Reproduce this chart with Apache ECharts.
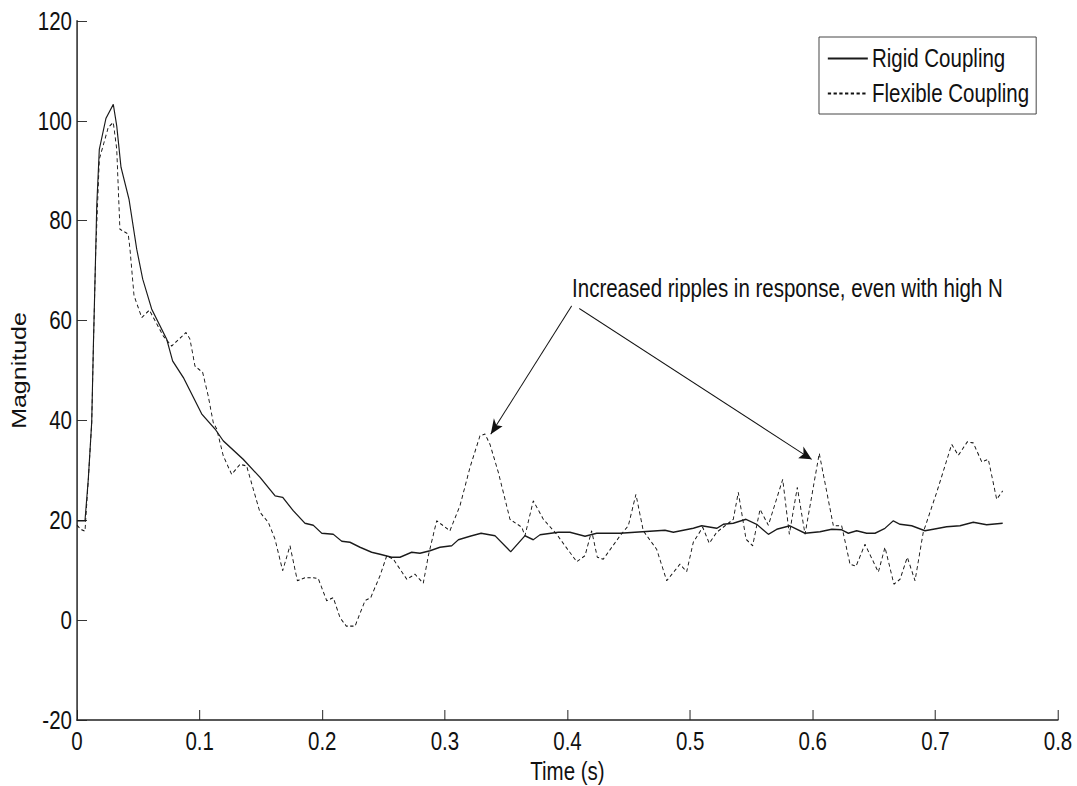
<!DOCTYPE html>
<html>
<head>
<meta charset="utf-8">
<title>Rigid vs Flexible Coupling</title>
<script src="https://cdn.jsdelivr.net/npm/echarts@6/dist/echarts.min.js"></script>
<style>
  html, body { margin: 0; padding: 0; background: #fff; overflow: hidden; }
  #frame { width: 1077px; height: 786px; overflow: hidden; }
  #chart { height: 786px; transform-origin: 0 0; }
</style>
</head>
<body>
<div id="frame"><div id="chart"></div></div>
<script>
// Step response magnitude over time for two coupling types
const rigidT = [0, 0.0065, 0.0092, 0.012, 0.0133, 0.0153, 0.0161, 0.0182, 0.0236, 0.0296, 0.0324, 0.0359, 0.0424, 0.0487, 0.0536, 0.0609, 0.0731, 0.078, 0.0867, 0.1017, 0.1125, 0.1193, 0.1356, 0.1492, 0.1615, 0.1677, 0.1764, 0.1859, 0.1927, 0.1996, 0.209, 0.2159, 0.2226, 0.2308, 0.2403, 0.2471, 0.2566, 0.2634, 0.2729, 0.2797, 0.2879, 0.296, 0.3056, 0.311, 0.3205, 0.3295, 0.3409, 0.3537, 0.3653, 0.3721, 0.3776, 0.3925, 0.402, 0.4143, 0.4238, 0.4428, 0.455, 0.4795, 0.4863, 0.5026, 0.5094, 0.5217, 0.527, 0.5352, 0.5456, 0.5543, 0.5638, 0.5706, 0.5814, 0.5937, 0.6059, 0.6155, 0.6236, 0.629, 0.6358, 0.644, 0.6508, 0.6589, 0.6657, 0.6712, 0.6807, 0.6915, 0.6983, 0.7092, 0.7201, 0.7309, 0.7418, 0.7549];
const rigidV = [19.9, 19.9, 28.2, 39.7, 54.3, 74.3, 83, 94.3, 100.5, 103.3, 99, 90.7, 84.3, 74.3, 68.3, 62.3, 56.3, 51.9, 48.6, 41.3, 38.3, 35.9, 32.2, 28.6, 24.9, 24.6, 21.9, 19.4, 19, 17.4, 17.2, 15.8, 15.6, 14.6, 13.6, 13.2, 12.6, 12.6, 13.6, 13.4, 13.9, 14.6, 14.9, 16.1, 16.8, 17.4, 16.9, 13.7, 16.9, 16.1, 17.1, 17.6, 17.6, 16.8, 17.4, 17.4, 17.6, 18, 17.6, 18.4, 18.9, 18.4, 19.2, 19.4, 20.2, 19.2, 17.2, 18.2, 18.9, 17.4, 17.7, 18.2, 18.1, 17.4, 17.9, 17.4, 17.4, 18.4, 19.9, 19.2, 18.9, 17.9, 18.2, 18.7, 18.9, 19.6, 19.1, 19.4];

const flexT = [0, 0.003, 0.0065, 0.0092, 0.012, 0.0133, 0.0153, 0.0182, 0.0255, 0.0296, 0.0324, 0.035, 0.0418, 0.0432, 0.0465, 0.0528, 0.059, 0.0704, 0.0772, 0.0889, 0.0921, 0.0962, 0.1025, 0.107, 0.1111, 0.1139, 0.1193, 0.1261, 0.1329, 0.1383, 0.1438, 0.1492, 0.156, 0.1615, 0.1677, 0.1737, 0.1797, 0.1859, 0.1927, 0.1968, 0.2036, 0.209, 0.2145, 0.2196, 0.2268, 0.2294, 0.2349, 0.2395, 0.2471, 0.2526, 0.258, 0.2689, 0.2756, 0.2824, 0.2865, 0.2933, 0.3041, 0.3123, 0.3205, 0.3286, 0.3327, 0.3368, 0.3436, 0.3531, 0.3627, 0.3653, 0.3721, 0.3803, 0.3912, 0.4075, 0.4143, 0.4197, 0.4243, 0.4292, 0.4428, 0.4496, 0.4558, 0.4618, 0.4727, 0.4809, 0.4917, 0.4972, 0.5026, 0.5103, 0.5156, 0.5217, 0.5311, 0.5352, 0.5393, 0.5456, 0.551, 0.557, 0.5638, 0.5755, 0.5809, 0.5874, 0.5937, 0.6053, 0.6168, 0.6236, 0.6304, 0.6353, 0.6426, 0.6535, 0.6589, 0.6662, 0.6712, 0.6771, 0.6834, 0.6901, 0.7011, 0.7133, 0.7187, 0.726, 0.7309, 0.7378, 0.7432, 0.75, 0.7549];
const flexV = [19, 18.2, 17.8, 28, 39.5, 54, 74, 92.3, 98.7, 99.7, 94.3, 78.3, 77.3, 74.3, 65, 60.6, 62.1, 56.9, 54.9, 57.6, 56.3, 50.9, 49.6, 44.9, 39.6, 38.3, 32.9, 29.2, 31.2, 30.9, 26.2, 21.6, 19.6, 16.2, 9.9, 14.9, 7.9, 8.5, 8.5, 8.3, 3.9, 4.5, 0.5, -1.2, -1.2, 0.5, 3.9, 4.5, 8.9, 12.9, 12.2, 8.2, 9.2, 7.4, 12.9, 19.9, 17.9, 22.9, 30.6, 36.9, 37.3, 35.2, 29.6, 20.2, 18.6, 16.9, 23.9, 20.2, 17.2, 11.7, 12.9, 17.9, 12.6, 12.2, 16.9, 18.9, 25.2, 17.9, 14.2, 7.9, 11.2, 9.7, 15.6, 18.6, 15.4, 17.6, 19.4, 20.2, 25.6, 16.2, 14.9, 22.2, 19, 28.2, 17.2, 26.6, 17.2, 33.4, 18.9, 18.9, 11.2, 10.8, 15.2, 9.6, 14.6, 7.2, 8.2, 12.6, 7.9, 17.6, 25.6, 35.2, 33, 35.7, 35.5, 31.7, 32.2, 24.2, 25.9];

const seriesNames = ['Rigid Coupling', 'Flexible Coupling'];
const xTicks = [0, 0.1, 0.2, 0.3, 0.4, 0.5, 0.6, 0.7, 0.8];
const yTicks = [-20, 0, 20, 40, 60, 80, 100, 120];

const noteText = 'Increased ripples in response, even with high N';
const noteAnchor = [0.4037, 66.5];
const arrowFrom = [[0.4034, 62.95], [0.4096, 62.4]];
const arrowTo = [[0.3374, 37.25], [0.5991, 32.2]];

// The figure uses narrow lettering: the chart is laid out on a wider canvas
// and squeezed horizontally, so horizontal sizes below are divided by SX.
const SX = 0.82;
const W = 1077 / SX;
const h = v => v / SX;

const FONT = "'Liberation Sans', Arial, sans-serif";
const INK = '#111';

const zip = (a, b) => a.map((v, i) => [v, b[i]]);

const el = document.getElementById('chart');
el.style.width = W + 'px';
el.style.transform = 'scaleX(' + SX + ')';

const chart = echarts.init(el, null, { renderer: 'svg', width: W, height: 786 });

chart.setOption({
  animation: false,
  backgroundColor: '#fff',
  grid: { left: h(77), right: h(19), top: 21, bottom: 66, containLabel: false, outerBoundsMode: 'none' },
  legend: {
    orient: 'vertical',
    left: h(819),
    top: 37,
    padding: [9, h(7), 8, h(8)],
    itemGap: 10,
    itemWidth: h(40),
    itemHeight: 2,
    backgroundColor: '#fff',
    borderColor: '#333',
    borderWidth: 1,
    borderRadius: 0,
    data: seriesNames,
    itemStyle: { opacity: 0 },
    textStyle: { fontFamily: FONT, fontSize: 25, color: INK },
    selectedMode: false
  },
  xAxis: {
    type: 'value',
    min: xTicks[0],
    max: xTicks[xTicks.length - 1],
    interval: 0.1,
    name: 'Time (s)',
    nameLocation: 'middle',
    nameGap: 37,
    nameTextStyle: { fontFamily: FONT, fontSize: 25, color: INK },
    axisLine: { show: true, onZero: false, lineStyle: { color: '#222', width: 1.5 } },
    axisTick: { show: true, inside: true, length: 10, lineStyle: { color: '#222', width: 1.2 } },
    axisLabel: {
      margin: 9,
      fontFamily: FONT, fontSize: 25, color: INK,
      formatter: v => String(+v.toFixed(1))
    },
    splitLine: { show: false }
  },
  yAxis: {
    type: 'value',
    min: yTicks[0],
    max: yTicks[yTicks.length - 1],
    interval: 20,
    name: 'Magnitude',
    nameLocation: 'middle',
    nameRotate: 90,
    nameGap: 45,
    nameTextStyle: { fontFamily: FONT, fontSize: 25, color: INK },
    axisLine: { show: true, onZero: false, lineStyle: { color: '#222', width: 1.8 } },
    axisTick: { show: true, inside: true, length: h(10), lineStyle: { color: '#222' } },
    axisLabel: { margin: h(5), fontFamily: FONT, fontSize: 25, color: INK },
    splitLine: { show: false }
  },
  series: [
    {
      name: seriesNames[0],
      type: 'line',
      data: zip(rigidT, rigidV),
      symbol: 'none',
      showSymbol: false,
      lineStyle: { color: '#1a1a1a', width: 1.4, type: 'solid' },
      itemStyle: { color: '#1a1a1a' },
      z: 3
    },
    {
      name: seriesNames[1],
      type: 'line',
      data: zip(flexT, flexV),
      symbol: 'none',
      showSymbol: false,
      lineStyle: { color: '#111', width: 1.1, type: [4, 3] },
      itemStyle: { color: '#111' },
      z: 2,
      markLine: {
        silent: true,
        symbol: ['none', 'arrow'],
        symbolSize: [10, 15],
        label: { show: false },
        lineStyle: { color: '#111', width: 1.1, type: 'solid' },
        data: arrowFrom.map((p, i) => [{ coord: p }, { coord: arrowTo[i] }])
      },
      markPoint: {
        silent: true,
        symbol: 'circle',
        symbolSize: 0,
        label: {
          show: true,
          position: 'right',
          distance: 0,
          fontFamily: FONT,
          fontSize: 25,
          color: INK,
          formatter: () => noteText
        },
        data: [{ coord: noteAnchor }]
      }
    }
  ]
});
</script>
</body>
</html>
